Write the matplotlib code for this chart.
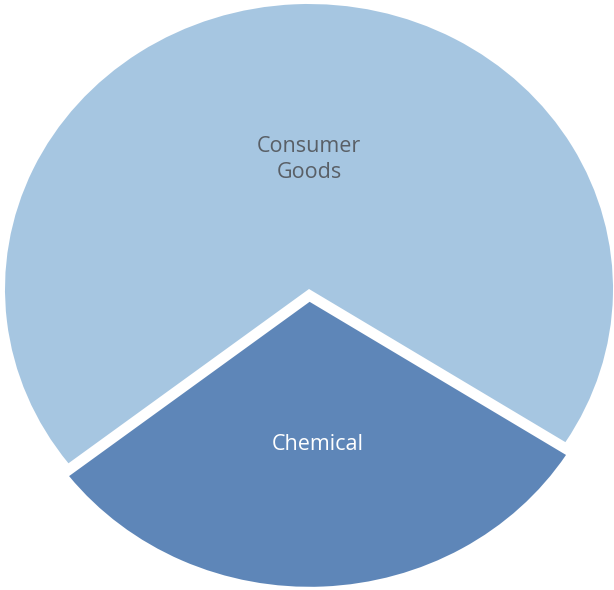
import matplotlib
matplotlib.use("Agg")
import matplotlib.pyplot as plt
import numpy as np

labels = ["Consumer\nGoods", "Chemical"]
values = [69.5, 30.5]
colors = ["#a6c6e1", "#5e86b8"]
text_colors = ["#595f66", "#ffffff"]
explode = [0.0, 0.045]
label_dist = [0.455, 0.50]

plt.rcParams['font.family'] = ['Open Sans', 'DejaVu Sans']

fig = plt.figure(figsize=(6.14, 5.90), dpi=100)
ax = fig.add_axes([0, 0, 1, 1])
wedges, texts = ax.pie(values, labels=labels, colors=colors, explode=explode,
                       startangle=-32.5, counterclock=True, labeldistance=0.47,
                       wedgeprops=dict(linewidth=0))
ax.set_aspect('auto')
ax.set_xlim(-309 / 304, (614 - 309) / 304)
ax.set_ylim(-(590 - 289) / 285, 289 / 285)
ax.axis('off')
for w, t, c, d in zip(wedges, texts, text_colors, label_dist):
    mid = np.deg2rad((w.theta1 + w.theta2) / 2)
    cx, cy = w.center
    x = cx + d * np.cos(mid)
    if abs(np.cos(mid)) < 0.1:
        x = cx + 0.0 * np.cos(mid) + (0.026 if np.sin(mid) < 0 else 0.0)
    t.set_position((x, cy + d * np.sin(mid)))
    t.set_ha('center')
    t.set_va('center')
    t.set_multialignment('center')
    t.set_color(c)
    t.set_fontsize(15.5)
    t.set_linespacing(1.3)

fig.savefig("out.png", dpi=100)
